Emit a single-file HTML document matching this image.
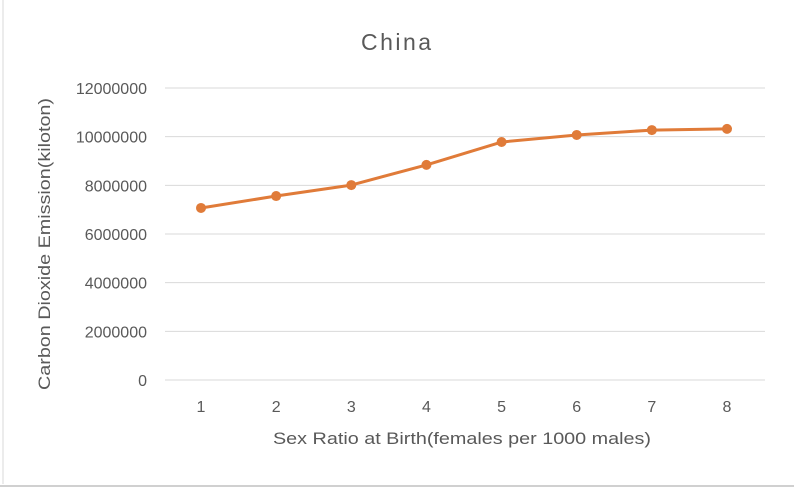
<!DOCTYPE html>
<html><head><meta charset="utf-8"><style>
html,body{margin:0;padding:0;background:#fff;}
svg{display:block;font-family:"Liberation Sans",sans-serif;}
</style></head><body>
<svg id="c" width="794" height="490">
<line x1="3" y1="0" x2="3" y2="484" stroke="#d9d9d9"/>
<line x1="0" y1="486" x2="794" y2="486" stroke="#d0d0d0" stroke-width="2"/>
<text x="396" y="50" font-size="23" fill="#595959" text-anchor="middle" textLength="70">China</text>
<text x="462" y="444" font-size="17" fill="#595959" text-anchor="middle" textLength="378" lengthAdjust="spacingAndGlyphs">Sex Ratio at Birth(females per 1000 males)</text>
<text transform="translate(50,244) rotate(-90)" font-size="17" fill="#595959" text-anchor="middle" textLength="292" lengthAdjust="spacingAndGlyphs">Carbon Dioxide Emission(kiloton)</text>
<g id="grid"></g><g id="series"></g>
</svg>
<script>
const categories = [1,2,3,4,5,6,7,8];
const emissions = [7070000,7560000,8010000,8840000,9780000,10070000,10270000,10320000];
const yTicks = [0,2000000,4000000,6000000,8000000,10000000,12000000];
const NS="http://www.w3.org/2000/svg";
const x0=165,x1=765,y0=380,y1=88;
const xs=i=>201+(727-201)*i/(categories.length-1);
const ys=v=>y0-(v/12000000)*(y0-y1);
const g=document.getElementById('grid'),s=document.getElementById('series');
function mk(t,a,p){const e=document.createElementNS(NS,t);for(const k in a)e.setAttribute(k,a[k]);p.appendChild(e);return e;}
yTicks.forEach(v=>{
 const l=mk('line',{x1:x0,x2:x1,y1:ys(v),y2:ys(v),stroke:'#d9d9d9','stroke-width':1},g);
 
 
 const t=mk('text',{x:147,y:ys(v)+6,'font-size':16,fill:'#595959','text-anchor':'end'},g);
 t.textContent=v;
 
 
});
categories.forEach((c,i)=>{
 const t=mk('text',{x:xs(i),y:412,'font-size':16,fill:'#595959','text-anchor':'middle'},g);
 t.textContent=c;
 
 
});
const pl=mk('polyline',{points:emissions.map((v,i)=>xs(i)+','+ys(v)).join(' '),fill:'none',stroke:'#E07B39','stroke-width':3,'stroke-linejoin':'round'},s);


emissions.forEach((v,i)=>{
 const c=mk('circle',{cx:xs(i),cy:ys(v),r:5,fill:'#E07B39'},s);
 
 
});
</script>
</body></html>
